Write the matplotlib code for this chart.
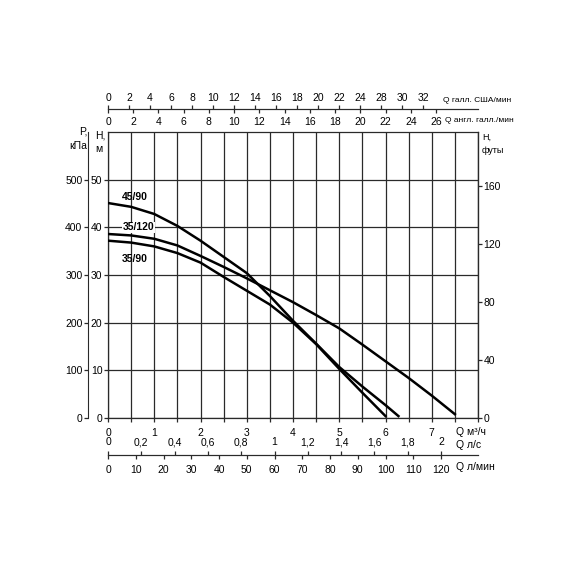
import numpy as np
import matplotlib.pyplot as plt

plt.rcParams['font.family'] = ['Liberation Sans Narrow', 'Liberation Sans', 'DejaVu Sans']
plt.rcParams['font.size'] = 7.5

# pump curves: Q in m3/h, H in m
q_45_90 = [0, 0.5, 1.0, 1.5, 2.0, 2.5, 3.0, 3.5, 4.0, 4.5, 5.0, 5.5, 6.0, 6.28]
h_45_90 = [45.1, 44.3, 42.8, 40.3, 37.2, 33.8, 30.4, 25.6, 20.4, 15.6, 10.7, 6.6, 2.7, 0.4]

q_35_120 = [0, 0.5, 1.0, 1.5, 2.0, 2.5, 3.0, 3.5, 4.0, 4.5, 5.0, 5.5, 6.0, 6.5, 7.0, 7.5]
h_35_120 = [38.6, 38.3, 37.6, 36.2, 34.0, 31.7, 29.3, 26.8, 24.3, 21.6, 18.8, 15.4, 11.9, 8.4, 4.7, 0.8]

q_35_90 = [0, 0.5, 1.0, 1.5, 2.0, 2.5, 3.0, 3.5, 4.0, 4.5, 5.0, 5.5, 6.0]
h_35_90 = [37.2, 36.8, 36.0, 34.6, 32.6, 29.6, 26.7, 23.8, 20.0, 15.5, 10.3, 5.3, 0.4]

curve_names = ['45/90', '35/120', '35/90']

# axis ticks
q_ticks = [0, 1, 2, 3, 4, 5, 6, 7]
h_ticks = [0, 10, 20, 30, 40, 50]
p_ticks = [0, 100, 200, 300, 400, 500]
ft_ticks = [0, 40, 80, 120, 160]
us_ticks = [0, 2, 4, 6, 8, 10, 12, 14, 16, 18, 20, 22, 24, 26, 28, 30]
us_labels = ['0', '2', '4', '6', '8', '10', '12', '14', '16', '18', '20', '22', '24', '28', '30', '32']
imp_ticks = [0, 2, 4, 6, 8, 10, 12, 14, 16, 18, 20, 22, 24, 26]
ls_ticks = [0, 0.2, 0.4, 0.6, 0.8, 1.0, 1.2, 1.4, 1.6, 1.8, 2.0]
ls_labels = ['0', '0,2', '0,4', '0,6', '0,8', '1', '1,2', '1,4', '1,6', '1,8', '2']
lmin_ticks = [0, 10, 20, 30, 40, 50, 60, 70, 80, 90, 100, 110, 120]

US_GAL = 4.40287
IMP_GAL = 3.66615

W = 570
L, R, T, B = 108, 478, 132, 418


def fx(px):
    return px / W


def fy(py):
    return 1 - py / W


fig = plt.figure(figsize=(5.7, 5.7), dpi=100)
ax = fig.add_axes([fx(L), fy(B), (R - L) / W, (B - T) / W])
ax.set_xlim(0, 8)
ax.set_ylim(0, 60)

gc = '#2a2a2a'
for s in ax.spines.values():
    s.set_color(gc)
    s.set_linewidth(0.9)

ax.set_xticks(q_ticks)
ax.set_xticks(np.arange(0.5, 8.01, 0.5), minor=True)
ax.set_yticks(h_ticks)
ax.grid(which='both', axis='x', color=gc, lw=0.9)
ax.grid(which='major', axis='y', color=gc, lw=0.9)
ax.tick_params(axis='x', which='both', direction='out', length=3, width=0.9,
               color=gc, pad=4.5)
ax.tick_params(axis='y', direction='out', length=3, width=0.9, color=gc, pad=1)

ax.plot(q_45_90, h_45_90, color='black', lw=1.8, zorder=3)
ax.plot(q_35_120, h_35_120, color='black', lw=1.8, zorder=3)
ax.plot(q_35_90, h_35_90, color='black', lw=1.8, zorder=3)

ax.text(0.58, 46.4, curve_names[0], ha='center', va='center', fontweight='bold')
ax.text(0.66, 40.0, curve_names[1], ha='center', va='center', fontweight='bold',
        bbox=dict(facecolor='white', edgecolor='none', pad=0.3))
ax.text(0.58, 33.4, curve_names[2], ha='center', va='center', fontweight='bold')

# left: pressure in kPa
pax = ax.secondary_yaxis(-20 / (R - L), functions=(lambda h: h * 10, lambda p: p / 10))
pax.set_yticks(p_ticks)
pax.tick_params(direction='out', length=3, width=0.9, color=gc, pad=1)
pax.spines['left'].set_color(gc)

# right: head in feet
fax = ax.secondary_yaxis('right', functions=(lambda h: h / 0.3048, lambda f: f * 0.3048))
fax.set_yticks(ft_ticks)
fax.tick_params(direction='out', length=3, width=0.9, color=gc, pad=1)

# top: gallons
top_pos = (B - 109) / (B - T)
us = ax.secondary_xaxis(top_pos, functions=(lambda q: q * US_GAL, lambda g: g / US_GAL))
us.set_xticks(us_ticks, us_labels)
us.tick_params(direction='out', length=3, width=0.9, color=gc, pad=1.5)
us.spines['top'].set_color(gc)

imp = ax.secondary_xaxis(top_pos, functions=(lambda q: q * IMP_GAL, lambda g: g / IMP_GAL))
imp.set_alignment('bottom')
imp.set_xticks(imp_ticks)
imp.tick_params(direction='out', length=3, width=0.9, color=gc, pad=3)
imp.spines['bottom'].set_color(gc)

# bottom: litres
bot_pos = (B - 455) / (B - T)
ls = ax.secondary_xaxis(bot_pos, functions=(lambda q: q / 3.6, lambda v: v * 3.6))
ls.set_alignment('top')
ls.set_xticks(ls_ticks, ls_labels)
ls.tick_params(direction='out', length=3, width=0.9, color=gc, pad=2.5)
ls.spines['top'].set_color(gc)

lm = ax.secondary_xaxis(bot_pos, functions=(lambda q: q * 1000 / 60, lambda v: v * 60 / 1000))
lm.set_xticks(lmin_ticks)
lm.tick_params(direction='out', length=3, width=0.9, color=gc, pad=4)
lm.spines['bottom'].set_color(gc)

# axis captions
fig.text(fx(87), fy(139), 'P,\nкПа', ha='right', va='center', linespacing=1.5)
fig.text(fx(95), fy(142), 'H,\nм', ha='left', va='center', linespacing=1.5)
fig.text(fx(482), fy(144), 'H,\nфуты', ha='left', va='center', linespacing=1.5, fontsize=6.5)
fig.text(fx(443), fy(100), 'Q галл. США/мин', ha='left', va='center', fontsize=6)
fig.text(fx(445), fy(121), 'Q англ. галл./мин', ha='left', va='center', fontsize=6)
fig.text(fx(456), fy(432), 'Q м³/ч', ha='left', va='center')
fig.text(fx(456), fy(445), 'Q л/с', ha='left', va='center')
fig.text(fx(456), fy(467), 'Q л/мин', ha='left', va='center')

fig.savefig('out.png', dpi=100)
